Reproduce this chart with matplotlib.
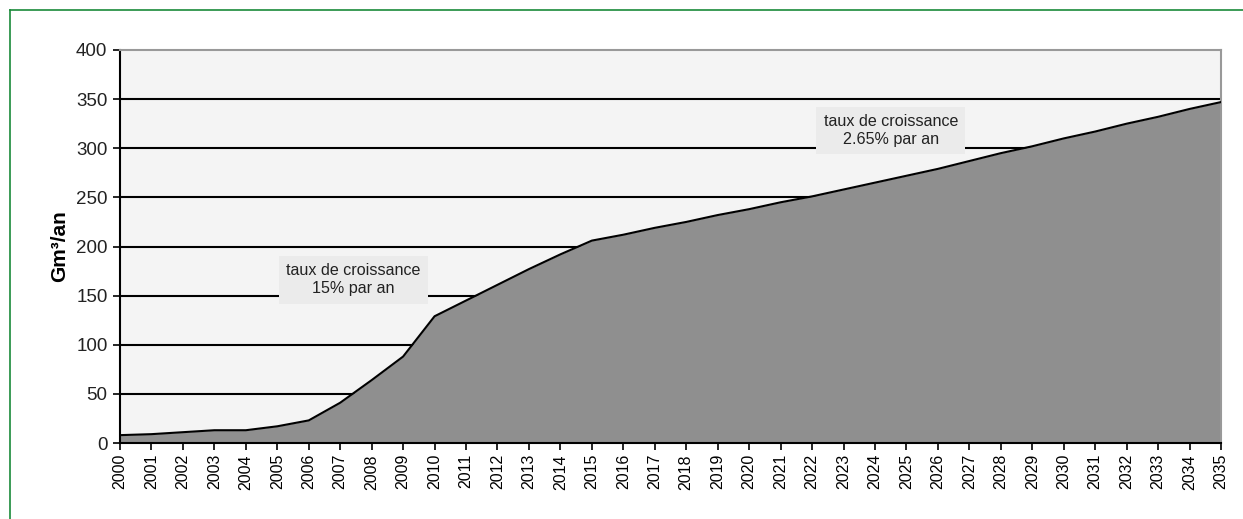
import matplotlib
matplotlib.use("Agg")
import matplotlib.pyplot as plt

plt.rcParams['font.family'] = ['Liberation Sans', 'DejaVu Sans']

years = list(range(2000, 2036))
values = [8, 9, 11, 13, 13, 17, 23, 41, 64, 88,
          129, 145, 161, 177, 192, 206, 212, 219, 225, 232,
          238, 245, 251, 258, 265, 272, 279, 287, 295, 302,
          310, 317, 325, 332, 340, 347]
y_ticks = [0, 50, 100, 150, 200, 250, 300, 350, 400]
ylabel = "Gm³/an"
note1 = "taux de croissance\n15% par an"
note2 = "taux de croissance\n2.65% par an"

fig = plt.figure(figsize=(12.43, 5.19), dpi=100)
fig.patch.set_facecolor('white')
# green frame
fig.add_artist(plt.Line2D([10/1243, 1.0], [1-10/519, 1-10/519], color='#1a8a3a', lw=1.2))
fig.add_artist(plt.Line2D([10/1243, 10/1243], [0, 1-10/519], color='#1a8a3a', lw=1.2))

ax = fig.add_axes([120/1243, 76/519, (1221-120)/1243, (443-50)/519])
ax.set_facecolor('#f4f4f4')
ax.set_xlim(2000, 2035)
ax.set_ylim(0, 400)

for yv in y_ticks[1:-1]:
    ax.axhline(yv, color='black', lw=1.5, zorder=1)

ax.fill_between(years, values, 0, color='#8f8f8f', zorder=2, lw=0)
ax.plot(years, values, color='black', lw=1.5, zorder=3)

ax.set_yticks(y_ticks)
ax.set_xticks(years)
ax.set_xticklabels([str(y) for y in years], rotation=90, fontsize=11.5)
ax.tick_params(axis='y', labelsize=13.5, length=5, width=1.2, colors='black', pad=4)
ax.tick_params(axis='x', length=5, width=1.2, pad=3)
for lab in ax.get_yticklabels():
    lab.set_color('#222222')

ax.spines['left'].set_color('black')
ax.spines['left'].set_linewidth(1.5)
ax.spines['bottom'].set_color('black')
ax.spines['bottom'].set_linewidth(1.5)
ax.spines['top'].set_color('#999999')
ax.spines['right'].set_color('#999999')
ax.spines['top'].set_linewidth(1.5)
ax.spines['right'].set_linewidth(1.5)

ax.set_ylabel(ylabel, fontsize=15, fontweight='bold', labelpad=5)

ax.text(2007.42, 166, note1, ha='center', va='center', fontsize=11.6, color='#222222',
        linespacing=1.25, zorder=5,
        bbox=dict(boxstyle='square,pad=0.45', facecolor='#ebebeb', edgecolor='none'))
ax.text(2024.5, 318, note2, ha='center', va='center', fontsize=11.6, color='#222222',
        linespacing=1.25, zorder=5,
        bbox=dict(boxstyle='square,pad=0.45', facecolor='#ebebeb', edgecolor='none'))

fig.savefig('out.png', dpi=100)
